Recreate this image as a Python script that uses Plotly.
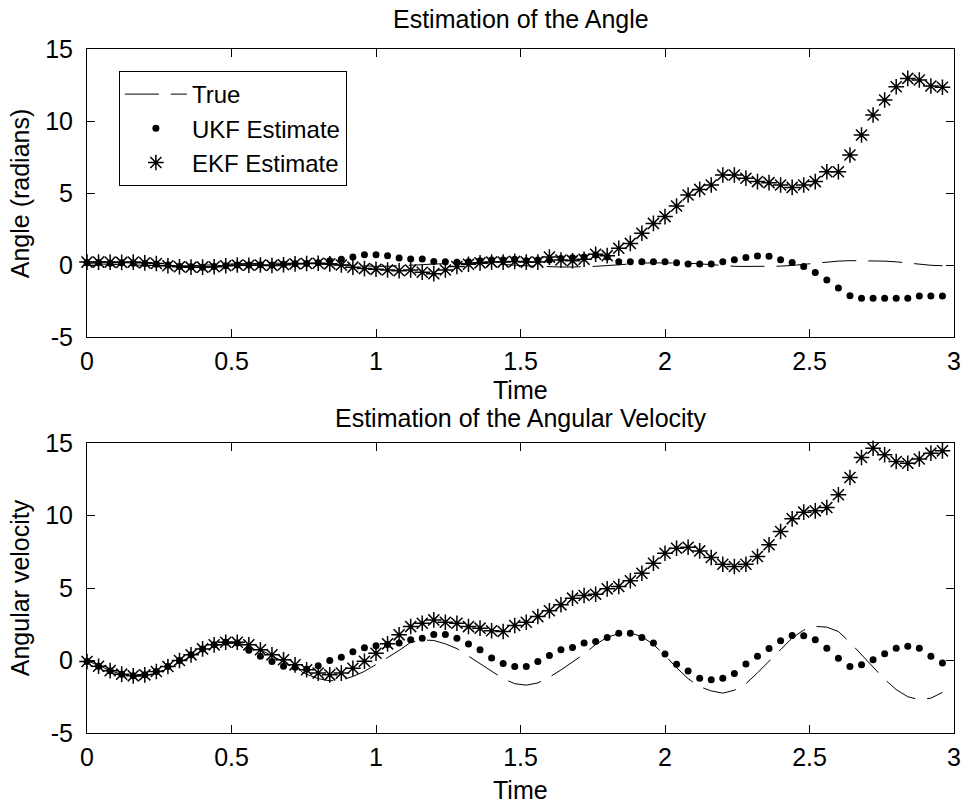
import plotly.graph_objects as go

time = [0.00, 0.04, 0.08, 0.12, 0.16, 0.20, 0.24, 0.28, 0.32, 0.36,
        0.40, 0.44, 0.48, 0.52, 0.56, 0.60, 0.64, 0.68, 0.72, 0.76,
        0.80, 0.84, 0.88, 0.92, 0.96, 1.00, 1.04, 1.08, 1.12, 1.16,
        1.20, 1.24, 1.28, 1.32, 1.36, 1.40, 1.44, 1.48, 1.52, 1.56,
        1.60, 1.64, 1.68, 1.72, 1.76, 1.80, 1.84, 1.88, 1.92, 1.96,
        2.00, 2.04, 2.08, 2.12, 2.16, 2.20, 2.24, 2.28, 2.32, 2.36,
        2.40, 2.44, 2.48, 2.52, 2.56, 2.60, 2.64, 2.68, 2.72, 2.76,
        2.80, 2.84, 2.88, 2.92, 2.96]

true_angle = [0.09, 0.08, 0.06, 0.03, 0.01, -0.03, -0.05, -0.06, -0.06, -0.05,
              -0.03, 0.01, 0.05, 0.09, 0.11, 0.13, 0.13, 0.13, 0.12, 0.09,
              0.04, -0.01, -0.05, -0.08, -0.09, -0.09, -0.09, -0.07, -0.03, 0.02,
              0.07, 0.10, 0.12, 0.12, 0.12, 0.09, 0.05, -0.01, -0.06, -0.10,
              -0.13, -0.14, -0.14, -0.13, -0.09, -0.04, 0.03, 0.09, 0.13, 0.15,
              0.15, 0.15, 0.13, 0.08, 0.01, -0.05, -0.09, -0.10, -0.10, -0.10,
              -0.08, -0.03, 0.05, 0.14, 0.22, 0.27, 0.30, 0.30, 0.30, 0.27,
              0.22, 0.14, 0.05, -0.02, -0.05]

ukf_angle = [0.15, 0.15, 0.12, 0.15, 0.12, 0.10, 0.05, 0.00, -0.10, -0.12,
             -0.15, -0.10, -0.05, 0.00, 0.00, 0.02, 0.00, 0.05, 0.08, 0.10,
             0.15, 0.30, 0.40, 0.55, 0.72, 0.72, 0.65, 0.48, 0.42, 0.42,
             0.25, 0.23, 0.19, 0.23, 0.30, 0.35, 0.35, 0.40, 0.30, 0.35,
             0.35, 0.45, 0.50, 0.55, 0.70, 0.55, 0.22, 0.23, 0.23, 0.23,
             0.23, 0.15, 0.07, 0.07, 0.07, 0.23, 0.36, 0.52, 0.62, 0.60,
             0.37, 0.17, -0.10, -0.52, -1.04, -1.60, -2.14, -2.31, -2.31, -2.31,
             -2.31, -2.31, -2.15, -2.15, -2.15]

ekf_angle = [0.20, 0.20, 0.20, 0.18, 0.20, 0.15, 0.10, -0.05, -0.12, -0.15,
             -0.15, -0.12, -0.05, 0.00, -0.02, 0.00, -0.03, 0.02, 0.08, 0.10,
             0.12, 0.08, 0.00, -0.15, -0.25, -0.30, -0.35, -0.40, -0.35, -0.50,
             -0.60, -0.35, -0.10, 0.05, 0.15, 0.20, 0.20, 0.25, 0.20, 0.20,
             0.55, 0.35, 0.30, 0.40, 0.75, 0.65, 1.16, 1.50, 2.20, 2.89,
             3.36, 4.10, 4.86, 5.25, 5.56, 6.25, 6.25, 6.02, 5.79, 5.72,
             5.56, 5.39, 5.56, 5.79, 6.48, 6.48, 7.64, 9.03, 10.42, 11.46,
             12.38, 12.96, 12.85, 12.43, 12.34]

true_vel = [0.00, -0.35, -0.70, -0.95, -1.10, -1.05, -0.85, -0.55, -0.15, 0.30,
            0.70, 1.00, 1.18, 1.18, 1.05, 0.75, 0.35, -0.10, -0.55, -0.95,
            -1.25, -1.40, -1.35, -1.10, -0.75, -0.30, 0.20, 0.70, 1.25, 1.42,
            1.38, 1.15, 0.82, 0.30, -0.20, -0.75, -1.25, -1.60, -1.70, -1.55,
            -1.15, -0.65, -0.10, 0.45, 1.10, 1.60, 1.85, 1.90, 1.65, 1.10,
            0.35, -0.50, -1.25, -1.80, -2.10, -2.25, -2.05, -1.60, -0.85, -0.05,
            0.80, 1.55, 2.10, 2.35, 2.30, 2.00, 1.25, 0.40, -0.45, -1.30,
            -2.00, -2.50, -2.70, -2.60, -2.20]

ukf_vel = [-0.07, -0.40, -0.70, -0.94, -1.06, -0.99, -0.76, -0.41, 0.00, 0.39,
           0.80, 1.08, 1.26, 1.20, 0.70, 0.30, -0.07, -0.40, -0.47, -0.60,
           -0.37, 0.00, 0.22, 0.60, 0.88, 1.02, 1.10, 1.20, 1.43, 1.54,
           1.80, 1.80, 1.54, 1.13, 0.74, 0.18, -0.20, -0.41, -0.41, -0.07,
           0.34, 0.74, 0.90, 1.20, 1.31, 1.59, 1.88, 1.88, 1.59, 1.20,
           0.45, -0.25, -0.73, -1.22, -1.33, -1.22, -0.90, -0.24, 0.30, 0.82,
           1.37, 1.73, 1.70, 1.43, 0.85, 0.16, -0.41, -0.30, 0.05, 0.47,
           0.85, 0.99, 0.85, 0.30, -0.18]

ekf_vel = [-0.07, -0.40, -0.70, -0.94, -1.06, -0.99, -0.76, -0.41, 0.00, 0.39,
           0.80, 1.08, 1.26, 1.26, 1.08, 0.74, 0.39, 0.05, -0.30, -0.64,
           -0.87, -0.99, -0.87, -0.53, -0.05, 0.50, 1.15, 1.77, 2.34, 2.57,
           2.80, 2.64, 2.57, 2.34, 2.23, 2.05, 2.00, 2.41, 2.64, 3.03,
           3.43, 3.84, 4.30, 4.48, 4.57, 4.94, 5.10, 5.50, 6.02, 6.71,
           7.40, 7.74, 7.81, 7.56, 7.10, 6.64, 6.48, 6.64, 7.17, 7.98,
           8.90, 9.77, 10.23, 10.32, 10.55, 11.43, 12.62, 14.00, 14.64, 14.19,
           13.72, 13.60, 13.90, 14.30, 14.46]

x_ticks = [0, 0.5, 1, 1.5, 2, 2.5, 3]
x_tick_labels = ["0", "0.5", "1", "1.5", "2", "2.5", "3"]
y_ticks = [-5, 0, 5, 10, 15]
y_tick_labels = ["-5", "0", "5", "10", "15"]

FONT = "Liberation Sans, Arial, Helvetica, sans-serif"
FS = 25
LFS = 24
DASH = "34px,12px"

fig = go.Figure()

def add_set(tr, uk, ek, xa, ya, show):
    fig.add_trace(go.Scatter(x=time, y=tr, mode="lines", name="True",
                             line=dict(color="black", width=1, dash=DASH),
                             xaxis=xa, yaxis=ya, showlegend=show, legendgroup="a"))
    fig.add_trace(go.Scatter(x=time, y=uk, mode="markers", name="UKF Estimate",
                             marker=dict(color="black", size=7, symbol="circle"),
                             xaxis=xa, yaxis=ya, showlegend=show, legendgroup="b",
                             cliponaxis=False))
    fig.add_trace(go.Scatter(x=time, y=ek, mode="markers", name="EKF Estimate",
                             marker=dict(color="black", size=13, symbol="asterisk-open",
                                         line=dict(color="black", width=1.5)),
                             xaxis=xa, yaxis=ya, showlegend=show, legendgroup="c",
                             cliponaxis=False))

add_set(true_angle, ukf_angle, ekf_angle, "x", "y", True)
add_set(true_vel, ukf_vel, ekf_vel, "x2", "y2", False)

W, H = 973, 807
ML, MR, MT, MB = 87, 16, 49, 74
PH = H - MT - MB

def py(px):
    return (H - MB - px) / PH

def pxx(px):
    return (px - ML) / (W - ML - MR)

axis_common = dict(showline=True, linecolor="black", linewidth=1, mirror="ticks",
                   ticks="inside", ticklen=8, tickcolor="black", tickwidth=1,
                   showgrid=False, zeroline=False,
                   tickfont=dict(family=FONT, size=FS, color="black"))

fig.update_layout(
    width=W, height=H,
    margin=dict(l=ML, r=MR, t=MT, b=MB),
    paper_bgcolor="white", plot_bgcolor="white",
    font=dict(family=FONT, size=FS, color="black"),
    xaxis=dict(domain=[0, 1], range=[0, 3], tickvals=x_ticks, ticktext=x_tick_labels,
               anchor="y", ticklabelstandoff=2, **axis_common),
    yaxis=dict(domain=[py(337), 1], range=[-5, 15], tickvals=y_ticks, ticktext=y_tick_labels,
               anchor="x", ticklabelstandoff=8, **axis_common),
    xaxis2=dict(domain=[0, 1], range=[0, 3], tickvals=x_ticks, ticktext=x_tick_labels,
                anchor="y2", ticklabelstandoff=2, **axis_common),
    yaxis2=dict(domain=[0, py(443)], range=[-5, 15], tickvals=y_ticks, ticktext=y_tick_labels,
                anchor="x2", ticklabelstandoff=8, **axis_common),
    legend=dict(x=pxx(119), y=py(71), xanchor="left", yanchor="top",
                bgcolor="white", bordercolor="black", borderwidth=1, itemwidth=62,
                font=dict(family=FONT, size=LFS, color="black"), tracegroupgap=0),
    showlegend=True,
)

def label(text, x, y, angle=0):
    fig.add_annotation(text=text, x=x, y=y, xref="paper", yref="paper",
                       showarrow=False, textangle=angle, xanchor="center", yanchor="middle",
                       font=dict(family=FONT, size=FS, color="black"))

label("Estimation of the Angle", 0.5, py(19))
label("Time", 0.5, py(390))
label("Estimation of the Angular Velocity", 0.5, py(418))
label("Time", 0.5, py(790))
label("Angle (radians)", pxx(20), py(193), -90)
label("Angular velocity", pxx(20), py(588), -90)

fig.write_html("out.html")
